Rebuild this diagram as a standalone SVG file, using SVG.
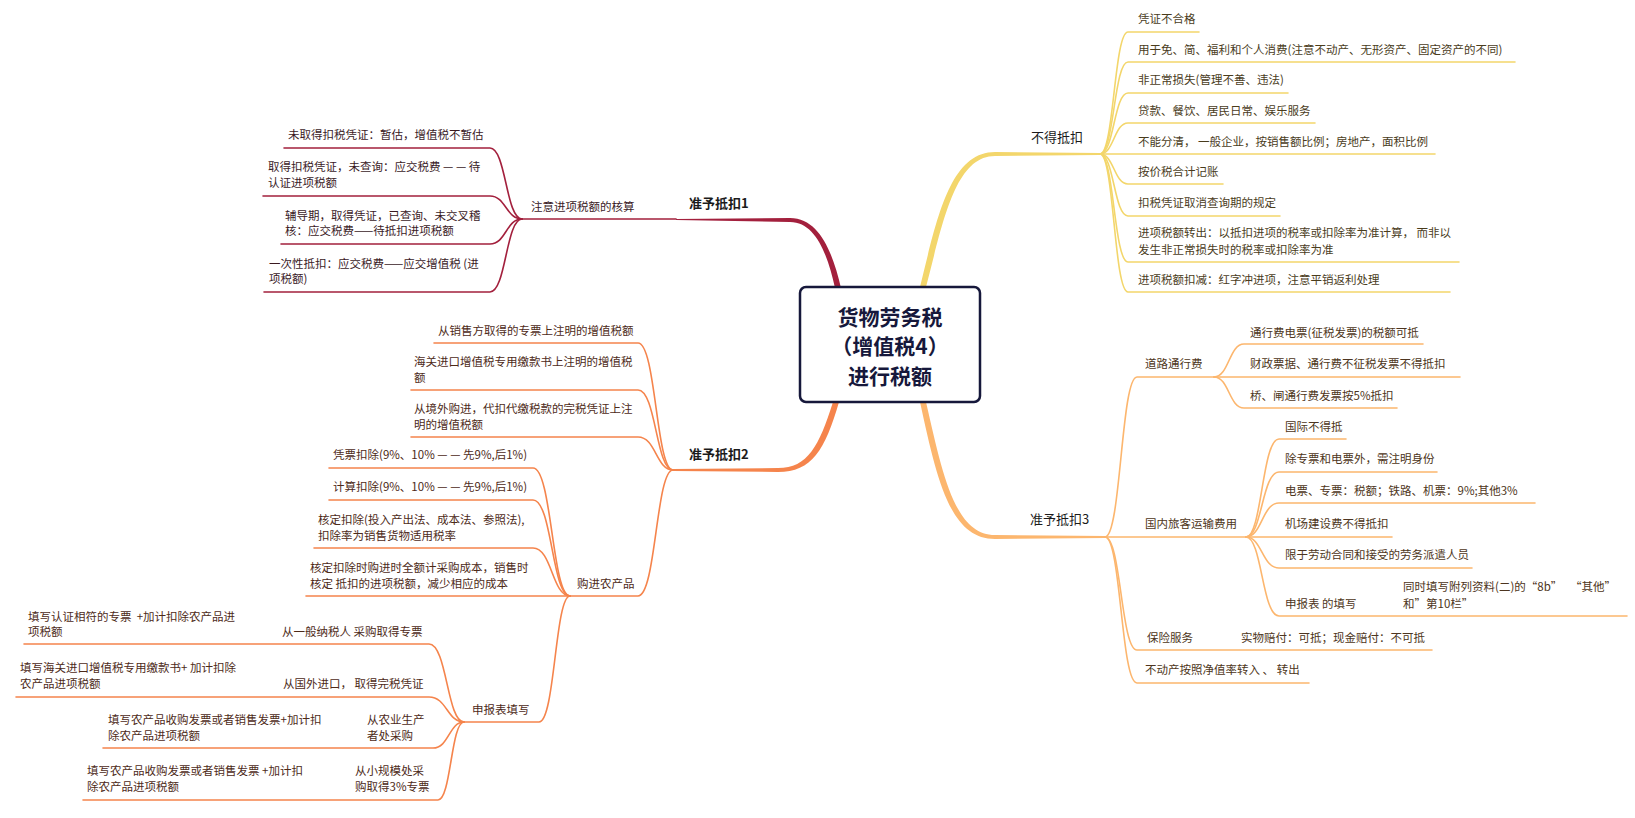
<svg xmlns="http://www.w3.org/2000/svg" width="1635" height="818" viewBox="0 0 1635 818">
<style>
text{font-family:"Noto Sans CJK SC","Noto Sans",sans-serif;}
.t{font-size:11.5px;}
.m{font-size:13px;fill:#1b1b1b;}
.b{font-weight:bold;}
.c1{fill:#3a1a1f;}
.c2{fill:#4d2a18;}
.c3{fill:#4a3c1c;}
.c4{fill:#4d3520;}
.l{fill:none;stroke-width:1.6;stroke-linecap:round;}
.r{stroke:#a3203d;}
.o{stroke:#f5844c;}
.y{stroke:#f3d66b;}
.p{stroke:#fcb66e;}
</style>
<rect width="1635" height="818" fill="#ffffff"/>
<g id="connectors">
<path d="M841 288 C833 254 820 218 790 218 L676 218.9 L676 220.1 L790 222 C816 222 828 256 835 288 Z" fill="#a3203d"/>
<path d="M839 402 C825 450 812 472 778 472 L673 471 L673 469 L778 468 C808 468 819 446 833 402 Z" fill="#f5844c"/>
<path d="M920 287 C937 218 950 152 995 152 L1100 153 L1100 155 L995 156 C955 156 943 222 926 287 Z" fill="#f3d66b"/>
<path d="M920 402 C937 480 950 539 995 539 L1105 538 L1105 536 L995 535 C955 535 943 476 926 402 Z" fill="#fcb66e"/>
<g class="l r">
<path d="M522 219 L676 219"/>
<path d="M284 148 L490 148 C506 148 506 219 522 219"/>
<path d="M263 196 L490 196 C506 196 506 219 522 219"/>
<path d="M281 244 L490 244 C506 244 506 219 522 219"/>
<path d="M264 292 L490 292 C506 292 506 219 522 219"/>
</g>
<g class="l o">
<path d="M434 343 L638 343 C656 343 656 470 673 470"/>
<path d="M411 390 L638 390 C656 390 656 470 673 470"/>
<path d="M411 437 L638 437 C656 437 656 470 673 470"/>
<path d="M570 596 L638 596 C656 596 656 470 673 470"/>
<path d="M329 468 L533 468 C552 468 552 596 570 596"/>
<path d="M329 500 L533 500 C552 500 552 596 570 596"/>
<path d="M314 548 L533 548 C552 548 552 596 570 596"/>
<path d="M306 596 L570 596"/>
<path d="M464 722 L539 722 C555 722 555 596 570 596"/>
<path d="M24 644 L429 644 C447 644 447 722 464 722"/>
<path d="M16 697 L429 697 C447 697 447 722 464 722"/>
<path d="M103 748 L433 748 C449 748 449 722 464 722"/>
<path d="M83 800 L438 800 C451 800 451 722 464 722"/>
</g>
<g class="l y">
<path d="M1100 154 C1114 154 1114 32 1128 32 L1199 32"/>
<path d="M1100 154 C1114 154 1114 62 1128 62 L1515 62"/>
<path d="M1100 154 C1114 154 1114 93 1128 93 L1288 93"/>
<path d="M1100 154 C1114 154 1114 123 1128 123 L1315 123"/>
<path d="M1100 154 L1435 154"/>
<path d="M1100 154 C1114 154 1114 184 1128 184 L1223 184"/>
<path d="M1100 154 C1114 154 1114 216 1128 216 L1280 216"/>
<path d="M1100 154 C1114 154 1114 262 1128 262 L1459 262"/>
<path d="M1100 154 C1114 154 1114 292 1128 292 L1450 292"/>
</g>
<g class="l p">
<path d="M1105 537 C1121 537 1121 377 1137 377 L1214 377"/>
<path d="M1105 537 L1246 537"/>
<path d="M1105 537 C1121 537 1121 650 1137 650 L1432 650"/>
<path d="M1105 537 C1121 537 1121 683 1137 683 L1309 683"/>
<path d="M1214 377 C1229 377 1229 344 1244 344 L1423 344"/>
<path d="M1214 377 L1460 377"/>
<path d="M1214 377 C1229 377 1229 408 1244 408 L1397 408"/>
<path d="M1246 537 C1262 537 1262 439 1279 439 L1346 439"/>
<path d="M1246 537 C1262 537 1262 472 1279 472 L1437 472"/>
<path d="M1246 537 C1262 537 1262 503 1279 503 L1535 503"/>
<path d="M1246 537 L1392 537"/>
<path d="M1246 537 C1262 537 1262 568 1279 568 L1472 568"/>
<path d="M1246 537 C1262 537 1262 616 1279 616 L1627 616"/>
</g>
</g>
<g id="n-root">
<rect x="800" y="287" width="180" height="115" rx="6" fill="#ffffff" stroke="#16183b" stroke-width="2.5"/>
<text x="890" y="325" text-anchor="middle" font-size="21" font-weight="bold" fill="#16183b">货物劳务税</text>
<text x="890" y="354" text-anchor="middle" font-size="21" font-weight="bold" fill="#16183b">（增值税4）</text>
<text x="890" y="384" text-anchor="middle" font-size="21" font-weight="bold" fill="#16183b">进行税额</text>
</g>
<g id="n-b1"><text class="m b" x="689" y="208">准予抵扣1</text></g>
<g id="n-b1-1"><text class="t c1" x="531" y="211">注意进项税额的核算</text></g>
<g id="n-b1-1-1"><text class="t c1" x="288" y="139">未取得扣税凭证：暂估，增值税不暂估</text></g>
<g id="n-b1-1-2"><text class="t c1" x="268" y="171">取得扣税凭证，未查询：应交税费 — — 待</text><text class="t c1" x="268" y="187">认证进项税额</text></g>
<g id="n-b1-1-3"><text class="t c1" x="285" y="220">辅导期，取得凭证，已查询、未交叉稽</text><text class="t c1" x="285" y="235">核：应交税费——待抵扣进项税额</text></g>
<g id="n-b1-1-4"><text class="t c1" x="269" y="268">一次性抵扣：应交税费——应交增值税 (进</text><text class="t c1" x="269" y="283">项税额)</text></g>
<g id="n-b2"><text class="m b" x="689" y="459">准予抵扣2</text></g>
<g id="n-b2-1"><text class="t c2" x="438" y="335">从销售方取得的专票上注明的增值税额</text></g>
<g id="n-b2-2"><text class="t c2" x="414" y="366">海关进口增值税专用缴款书上注明的增值税</text><text class="t c2" x="414" y="382">额</text></g>
<g id="n-b2-3"><text class="t c2" x="414" y="413">从境外购进，代扣代缴税款的完税凭证上注</text><text class="t c2" x="414" y="429">明的增值税额</text></g>
<g id="n-b2-4"><text class="t c2" x="577" y="588">购进农产品</text></g>
<g id="n-b2-4-1"><text class="t c2" x="333" y="459">凭票扣除(9%、10% — — 先9%,后1%)</text></g>
<g id="n-b2-4-2"><text class="t c2" x="333" y="491">计算扣除(9%、10% — — 先9%,后1%)</text></g>
<g id="n-b2-4-3"><text class="t c2" x="318" y="524">核定扣除(投入产出法、成本法、参照法),</text><text class="t c2" x="318" y="540">扣除率为销售货物适用税率</text></g>
<g id="n-b2-4-4"><text class="t c2" x="310" y="572">核定扣除时购进时全额计采购成本，销售时</text><text class="t c2" x="310" y="588">核定 抵扣的进项税额，减少相应的成本</text></g>
<g id="n-b2-4-5"><text class="t c2" x="472" y="714">申报表填写</text></g>
<g id="n-d1"><text class="t c2" x="282" y="636">从一般纳税人 采购取得专票</text></g>
<g id="n-d1-1"><text class="t c2" x="28" y="621">填写认证相符的专票 &#160;+加计扣除农产品进</text><text class="t c2" x="28" y="636">项税额</text></g>
<g id="n-d2"><text class="t c2" x="283" y="688">从国外进口， 取得完税凭证</text></g>
<g id="n-d2-1"><text class="t c2" x="20" y="672">填写海关进口增值税专用缴款书+ 加计扣除</text><text class="t c2" x="20" y="688">农产品进项税额</text></g>
<g id="n-d3"><text class="t c2" x="367" y="724">从农业生产</text><text class="t c2" x="367" y="740">者处采购</text></g>
<g id="n-d3-1"><text class="t c2" x="108" y="724">填写农产品收购发票或者销售发票+加计扣</text><text class="t c2" x="108" y="740">除农产品进项税额</text></g>
<g id="n-d4"><text class="t c2" x="355" y="775">从小规模处采</text><text class="t c2" x="355" y="791">购取得3%专票</text></g>
<g id="n-d4-1"><text class="t c2" x="87" y="775">填写农产品收购发票或者销售发票 +加计扣</text><text class="t c2" x="87" y="791">除农产品进项税额</text></g>
<g id="n-b3"><text class="m" x="1031" y="142">不得抵扣</text></g>
<g id="n-b3-1"><text class="t c3" x="1138" y="23">凭证不合格</text></g>
<g id="n-b3-2"><text class="t c3" x="1138" y="54">用于免、简、福利和个人消费(注意不动产、无形资产、固定资产的不同)</text></g>
<g id="n-b3-3"><text class="t c3" x="1138" y="84">非正常损失(管理不善、违法)</text></g>
<g id="n-b3-4"><text class="t c3" x="1138" y="115">贷款、餐饮、居民日常、娱乐服务</text></g>
<g id="n-b3-5"><text class="t c3" x="1138" y="146">不能分清， 一般企业，按销售额比例；房地产，面积比例</text></g>
<g id="n-b3-6"><text class="t c3" x="1138" y="176">按价税合计记账</text></g>
<g id="n-b3-7"><text class="t c3" x="1138" y="207">扣税凭证取消查询期的规定</text></g>
<g id="n-b3-8"><text class="t c3" x="1138" y="237">进项税额转出：以抵扣进项的税率或扣除率为准计算， 而非以</text><text class="t c3" x="1138" y="254">发生非正常损失时的税率或扣除率为准</text></g>
<g id="n-b3-9"><text class="t c3" x="1138" y="284">进项税额扣减：红字冲进项，注意平销返利处理</text></g>
<g id="n-b4"><text class="m" x="1030" y="524">准予抵扣3</text></g>
<g id="n-b4-1"><text class="t c4" x="1145" y="368">道路通行费</text></g>
<g id="n-b4-1-1"><text class="t c4" x="1250" y="337">通行费电票(征税发票)的税额可抵</text></g>
<g id="n-b4-1-2"><text class="t c4" x="1250" y="368">财政票据、通行费不征税发票不得抵扣</text></g>
<g id="n-b4-1-3"><text class="t c4" x="1250" y="400">桥、闸通行费发票按5%抵扣</text></g>
<g id="n-b4-2"><text class="t c4" x="1145" y="528">国内旅客运输费用</text></g>
<g id="n-b4-2-1"><text class="t c4" x="1285" y="431">国际不得抵</text></g>
<g id="n-b4-2-2"><text class="t c4" x="1285" y="463">除专票和电票外，需注明身份</text></g>
<g id="n-b4-2-3"><text class="t c4" x="1285" y="495">电票、专票：税额；铁路、机票：9%;其他3%</text></g>
<g id="n-b4-2-4"><text class="t c4" x="1285" y="528">机场建设费不得抵扣</text></g>
<g id="n-b4-2-5"><text class="t c4" x="1285" y="559">限于劳动合同和接受的劳务派遣人员</text></g>
<g id="n-b4-2-6"><text class="t c4" x="1285" y="608">申报表 的填写</text></g>
<g id="n-b4-2-6-1"><text class="t c4" x="1403" y="591">同时填写附列资料(二)的“8b” &#160; “其他”</text><text class="t c4" x="1403" y="608">和”第10栏”</text></g>
<g id="n-b4-3"><text class="t c4" x="1147" y="642">保险服务</text></g>
<g id="n-b4-3-1"><text class="t c4" x="1241" y="642">实物赔付：可抵；现金赔付：不可抵</text></g>
<g id="n-b4-4"><text class="t c4" x="1145" y="674">不动产按照净值率转入 、 转出</text></g>
</svg>
